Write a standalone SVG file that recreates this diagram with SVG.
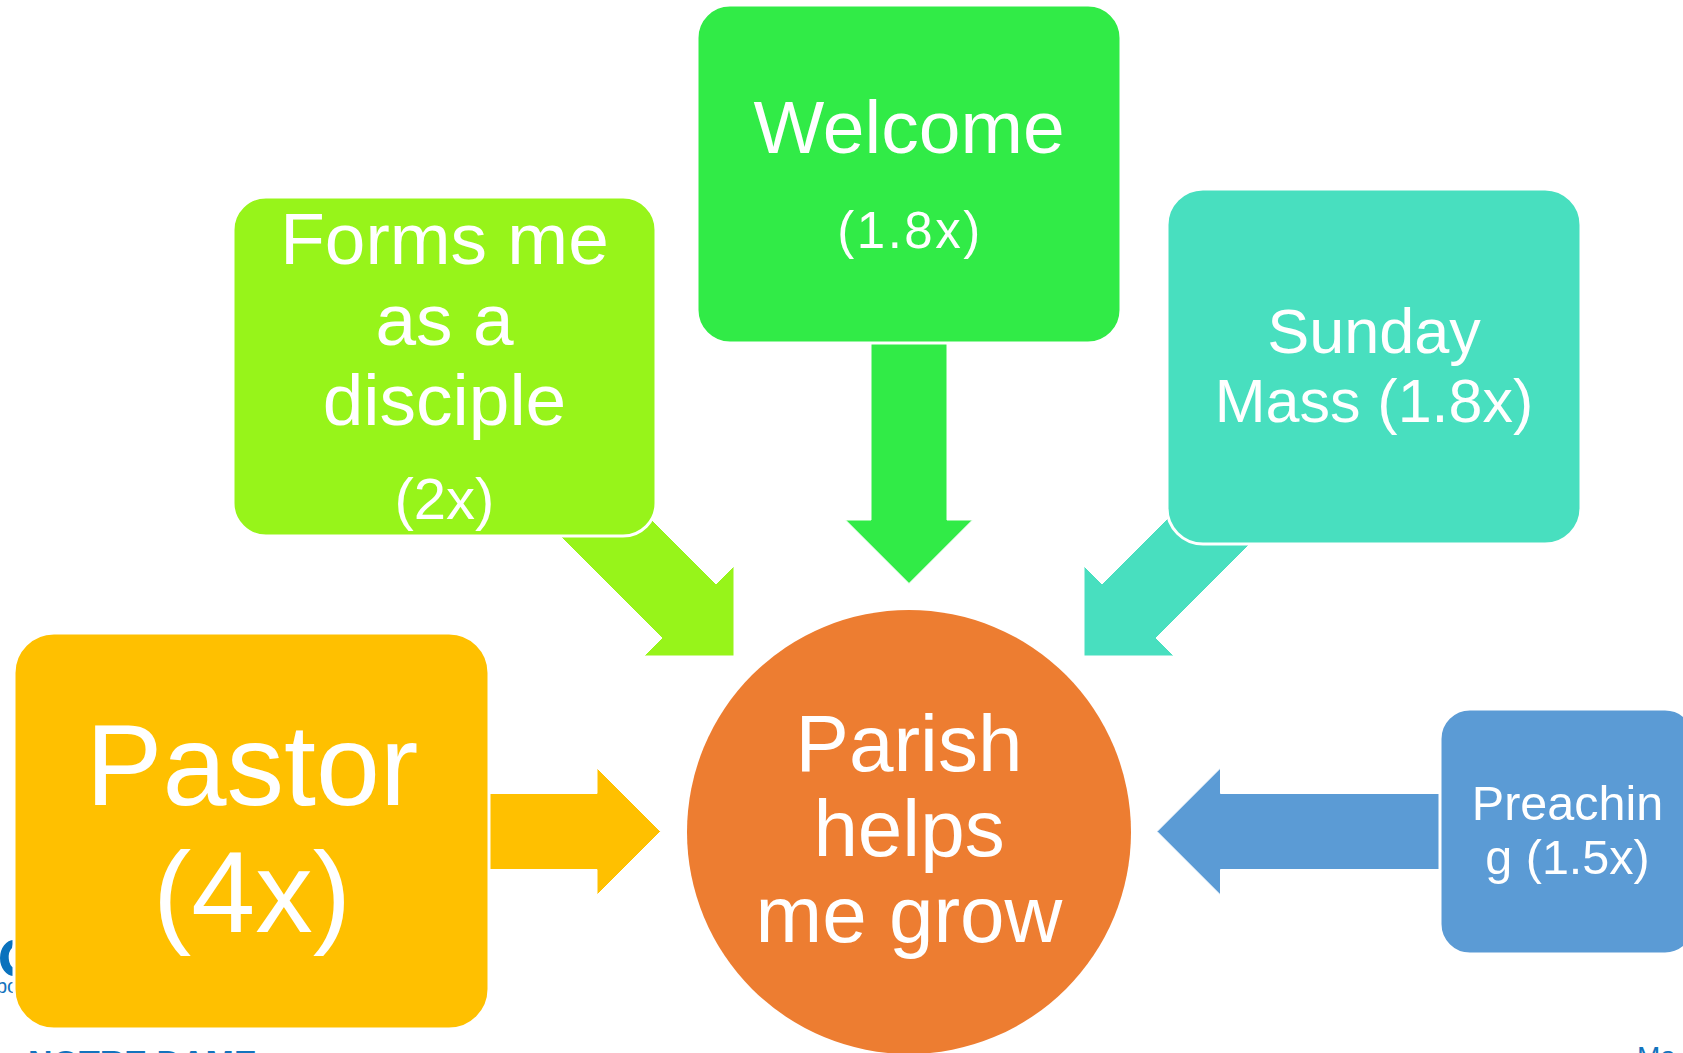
<svg xmlns="http://www.w3.org/2000/svg" width="1683" height="1053" viewBox="0 0 1683 1053">
<style>
.box{stroke:#fff;stroke-width:3}
.lbl{font-family:"Liberation Sans",Arial,sans-serif;fill:#fff;text-anchor:middle}
.bg{font-family:"Liberation Sans",Arial,sans-serif;fill:#1373bd}
.arr{stroke:#fff;stroke-width:1}
</style>
<rect width="1683" height="1053" fill="#fff"/>
<g id="background">
<path d="M14 940 A14 18 0 0 0 14 976 L14 968 A7 11 0 0 1 12 948 Z" fill="#0a72bd"/>
<text class="bg" x="-4" y="993" font-size="20">bo</text>
<text class="bg" x="28" y="1074" font-size="34" font-weight="bold">NOTRE DAME</text>
<text class="bg" x="1637" y="1066" font-size="28">Ma</text>
</g>
<g id="connectors">
<polygon class="arr" fill="#97f41a" points="586,454 716,584 734,566 734,656 644,656 662,638 532,508"/>
<polygon class="arr" fill="#31eb47" points="871,330 947,330 947,520 972.5,520 909,583.5 845.5,520 871,520"/>
<polygon class="arr" fill="#48dfbf" points="1232,454 1102,584 1084,566 1084,656 1174,656 1156,638 1286,508"/>
<polygon class="arr" fill="#ffc000" points="470,793.5 597,793.5 597,768 660.5,831.5 597,895 597,869.5 470,869.5"/>
<polygon class="arr" fill="#5b9bd5" points="1460,793.5 1220.5,793.5 1220.5,768 1157,831.5 1220.5,895 1220.5,869.5 1460,869.5"/>
</g>
<g id="node-welcome">
<rect class="box" x="697" y="5" width="424" height="338" rx="33" fill="#31eb47"/>
<text class="lbl" x="909" y="153" font-size="75">Welcome</text>
<text class="lbl" x="910" y="248" font-size="51" letter-spacing="2.5">(1.8x)</text>
</g>
<g id="node-forms">
<rect class="box" x="233" y="197" width="423" height="339" rx="33" fill="#97f41a"/>
<text class="lbl" x="444.5" y="264" font-size="73">Forms me</text>
<text class="lbl" x="444.5" y="345" font-size="73">as a</text>
<text class="lbl" x="444.5" y="425" font-size="73">disciple</text>
<text class="lbl" x="444.5" y="519" font-size="58">(2x)</text>
</g>
<g id="node-sunday">
<rect class="box" x="1167" y="189" width="414" height="355" rx="36" fill="#48dfbf"/>
<text class="lbl" x="1374" y="353" font-size="63">Sunday</text>
<text class="lbl" x="1374" y="422" font-size="61">Mass (1.8x)</text>
</g>
<g id="node-pastor">
<rect class="box" x="14" y="633" width="475" height="396" rx="40" fill="#ffc000"/>
<text class="lbl" x="252" y="805" font-size="115">Pastor</text>
<text class="lbl" x="252" y="932" font-size="115">(4x)</text>
</g>
<g id="node-preaching">
<rect class="box" x="1440" y="709" width="255" height="245" rx="30" fill="#5b9bd5"/>
<text class="lbl" x="1567.5" y="820" font-size="48.5">Preachin</text>
<text class="lbl" x="1567.5" y="874" font-size="48.5">g (1.5x)</text>
</g>
<g id="node-center">
<circle cx="909" cy="832" r="222" fill="#ed7d31"/>
<text class="lbl" x="909" y="771" font-size="80">Parish</text>
<text class="lbl" x="909" y="856" font-size="80">helps</text>
<text class="lbl" x="909" y="942" font-size="80">me grow</text>
</g>
</svg>
